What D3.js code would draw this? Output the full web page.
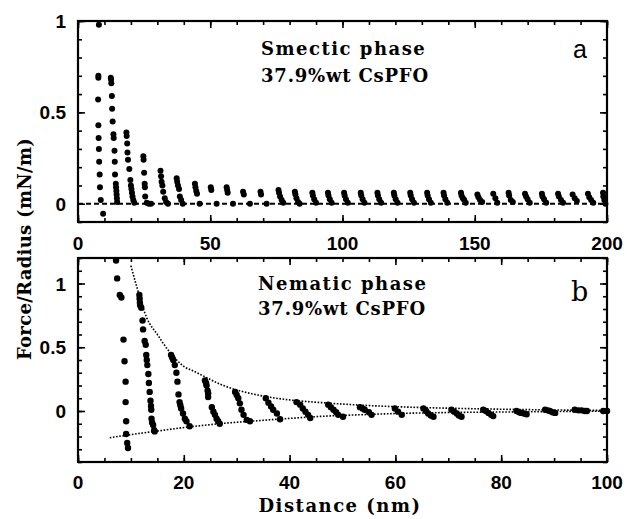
<!DOCTYPE html>
<html>
<head>
<meta charset="utf-8">
<script src="https://cdn.jsdelivr.net/npm/d3@7"></script>
<style>
  body { margin: 0; background: #fff; }
  svg text { fill: #000; }
</style>
</head>
<body>
<svg id="chart" width="627" height="519"></svg>
<script>
(function () {
    'use strict';

    // panel a: smectic phase, force/radius (mN/m) vs distance (nm)
    var smecticPts = [
        [7.9, 0.98], [7.7, 0.70], [7.7, 0.69], [7.6, 0.57], [7.7, 0.43], [7.8, 0.36], [7.9, 0.30], [8.0, 0.23],
        [8.2, 0.16], [8.3, 0.09], [8.6, 0.02], [9.5, -0.055],
        [12.4, 0.69], [12.5, 0.68], [12.6, 0.66], [12.8, 0.59], [12.9, 0.52], [13.1, 0.45], [13.4, 0.38],
        [13.5, 0.36], [13.8, 0.29], [13.9, 0.23], [14.0, 0.16], [14.3, 0.11], [14.4, 0.09], [14.5, 0.07],
        [14.6, 0.05], [14.7, 0.03], [14.8, 0.01],
        [18.3, 0.39], [18.4, 0.37], [18.6, 0.33], [18.7, 0.28], [18.9, 0.24], [19.4, 0.19], [19.8, 0.13],
        [20.0, 0.10], [20.2, 0.08], [20.4, 0.06], [20.6, 0.04], [20.9, 0.02], [21.3, 0.005],
        [24.7, 0.26], [24.8, 0.24], [25.0, 0.17], [25.2, 0.11], [25.3, 0.09], [25.4, 0.04], [26.0, 0.005],
        [26.8, 0.0], [27.6, 0.0],
        [31.2, 0.18], [31.4, 0.15], [31.6, 0.12], [31.9, 0.10], [32.2, 0.065], [32.8, 0.03], [33.3, 0.01], [34.0, 0.0],
        [37.3, 0.14], [37.5, 0.12], [37.8, 0.10], [38.2, 0.08], [38.5, 0.04], [39.0, 0.02], [39.6, 0.0],
        [44.2, 0.11], [44.4, 0.09], [44.7, 0.07], [45.0, 0.055], [46.0, 0.0],
        [50.2, 0.09], [50.4, 0.075], [52.4, 0.0],
        [56.2, 0.09], [56.4, 0.075], [56.6, 0.06], [58.6, 0.0],
        [62.4, 0.065], [62.7, 0.05], [65.0, 0.0],
        [69.0, 0.065], [69.2, 0.05], [71.3, 0.0],
        [75.8, 0.075], [76.0, 0.06], [76.4, 0.04], [77.0, 0.02], [77.6, 0.005],
        [82.0, 0.065], [82.2, 0.05], [82.6, 0.03], [83.2, 0.01], [83.8, 0.0],
        [88.6, 0.06], [88.8, 0.045], [89.3, 0.025], [90.0, 0.005],
        [94.5, 0.06], [94.7, 0.045], [95.2, 0.025], [95.9, 0.005],
        [100.6, 0.06], [100.8, 0.045], [101.3, 0.025], [102.0, 0.005],
        [106.9, 0.06], [107.1, 0.045], [107.6, 0.025], [108.3, 0.005],
        [113.2, 0.06], [113.4, 0.045], [113.9, 0.025], [114.6, 0.005],
        [119.4, 0.06], [119.6, 0.045], [120.1, 0.025], [120.8, 0.005],
        [125.6, 0.06], [125.8, 0.045], [126.3, 0.025], [127.0, 0.005],
        [132.0, 0.06], [132.2, 0.045], [132.7, 0.025], [133.4, 0.005],
        [138.2, 0.06], [138.4, 0.045], [138.9, 0.025], [139.6, 0.005],
        [144.8, 0.06], [145.0, 0.045], [145.5, 0.03], [146.0, 0.02], [146.6, 0.005],
        [151.0, 0.05], [151.4, 0.035], [152.0, 0.02], [152.8, 0.01],
        [157.0, 0.055], [157.8, 0.03], [158.5, 0.005],
        [162.8, 0.06], [163.0, 0.045], [163.6, 0.02], [164.4, 0.01],
        [169.0, 0.055], [169.4, 0.04], [170.0, 0.025], [170.8, 0.005],
        [175.4, 0.055], [175.6, 0.04], [176.2, 0.025], [177.0, 0.005],
        [181.5, 0.055], [181.8, 0.04], [182.6, 0.02], [183.4, 0.005],
        [187.0, 0.05], [187.8, 0.03], [188.6, 0.015],
        [192.8, 0.055], [193.3, 0.035], [194.0, 0.02], [194.8, 0.005],
        [198.5, 0.06], [198.6, 0.04], [199.0, 0.02], [199.4, 0.0]
    ];

    // panel b: nematic phase
    var nematicPts = [
        [7.2, 1.18], [7.4, 1.04], [7.9, 0.91], [8.2, 0.89], [8.6, 0.56], [8.8, 0.39], [9.0, 0.23], [9.0, 0.07],
        [9.1, -0.08], [9.1, -0.18], [9.3, -0.25], [9.45, -0.29],
        [11.6, 0.91], [11.65, 0.88], [11.7, 0.85], [11.75, 0.83], [11.96, 0.81], [12.2, 0.71], [12.3, 0.64],
        [12.6, 0.55], [12.8, 0.52], [12.9, 0.44], [13.0, 0.40], [13.1, 0.36], [13.3, 0.29], [13.4, 0.22],
        [13.55, 0.15], [13.7, 0.08], [13.8, 0.04], [13.85, 0.01], [13.9, -0.06], [14.0, -0.09], [14.2, -0.11],
        [14.4, -0.15], [14.5, -0.16],
        [17.6, 0.44], [17.8, 0.42], [18.0, 0.40], [18.3, 0.36], [18.6, 0.30], [18.8, 0.23], [19.0, 0.13],
        [19.2, 0.07], [19.35, 0.045], [19.5, 0.02], [19.85, -0.02], [20.2, -0.06], [20.5, -0.08], [21.1, -0.12],
        [24.0, 0.24], [24.2, 0.22], [24.3, 0.20], [24.5, 0.16], [24.6, 0.14], [24.6, 0.11], [25.3, 0.03],
        [25.6, -0.005], [25.9, -0.03], [26.2, -0.06], [26.5, -0.08], [26.8, -0.10],
        [29.7, 0.15], [30.0, 0.125], [30.3, 0.10], [30.6, 0.06], [30.9, 0.01], [31.3, -0.03], [31.9, -0.07], [32.5, -0.08],
        [35.5, 0.10], [36.0, 0.065], [36.5, 0.035], [36.9, 0.01], [37.6, -0.02], [38.2, -0.065],
        [41.3, 0.07], [42.0, 0.05], [42.5, 0.02], [43.0, -0.005], [43.5, -0.03], [43.9, -0.055],
        [47.3, 0.05], [47.8, 0.03], [48.3, 0.01], [48.8, -0.01], [49.2, -0.03], [50.1, -0.045],
        [53.3, 0.03], [53.8, 0.02], [54.2, 0.01], [55.0, -0.01], [55.5, -0.03],
        [59.9, 0.02], [60.5, -0.005], [61.2, -0.03],
        [65.3, 0.02], [65.8, 0.0], [66.2, -0.02], [66.7, -0.035], [67.2, -0.045],
        [70.6, 0.01], [71.1, -0.005], [71.6, -0.02], [72.0, -0.035], [72.5, -0.045],
        [76.6, 0.01], [77.1, 0.0], [77.6, -0.015], [78.1, -0.03], [78.5, -0.04],
        [82.9, 0.0], [83.4, -0.01], [83.8, -0.015], [84.3, -0.02], [84.8, -0.025],
        [88.3, 0.01], [88.8, 0.005], [89.2, 0.0], [89.7, -0.01], [90.2, -0.015],
        [93.9, 0.01], [94.6, 0.005], [95.2, 0.005], [95.8, 0.0], [96.2, 0.0],
        [99.3, 0.0], [100.0, 0.0]
    ];

    // dotted envelope curves in panel b
    var upperX = [10, 11, 13, 15, 17, 20, 22, 27.5, 34, 40, 46, 53, 60, 70, 80, 90, 100];
    var upperY = [1.14, 0.99, 0.73, 0.60, 0.48, 0.35, 0.31, 0.20, 0.125, 0.087, 0.066, 0.047, 0.034, 0.022, 0.014, 0.008, 0.004];
    var lowerX = [6, 10, 14.5, 21, 27.5, 34, 40, 46, 53, 60, 70, 80, 90, 100];
    var lowerY = [-0.21, -0.185, -0.16, -0.125, -0.097, -0.076, -0.058, -0.042, -0.03, -0.02, -0.012, -0.008, -0.004, -0.002];

    var xTicksA = [0, 50, 100, 150, 200], yTicksA = [0, 0.5, 1];
    var xTicksB = [0, 20, 40, 60, 80, 100], yTicksB = [0, 0.5, 1];

    var left = 78, right = 607;
    var svg = d3.select('#chart');
    var tickFont = '"Liberation Sans", Arial, sans-serif';
    var textFont = '"DejaVu Serif", serif';

    function drawFrame(g, x, y, xMajor, xMinor, yMajor, yMinor) {
        var x0 = x.range()[0], x1 = x.range()[1], y0 = y.range()[0], y1 = y.range()[1];
        var sides = [
            {axis: d3.axisBottom, scale: x, tr: [0, y0], major: xMajor, minor: xMinor},
            {axis: d3.axisTop, scale: x, tr: [0, y1], major: xMajor, minor: xMinor},
            {axis: d3.axisLeft, scale: y, tr: [x0, 0], major: yMajor, minor: yMinor},
            {axis: d3.axisRight, scale: y, tr: [x1, 0], major: yMajor, minor: yMinor}
        ];
        sides.forEach(function (s) {
            [[s.minor, 4], [s.major, 7]].forEach(function (t) {
                var a = g.append('g')
                    .attr('transform', 'translate(' + s.tr[0] + ',' + s.tr[1] + ')')
                    .call(s.axis(s.scale).tickValues(t[0]).tickSize(-t[1]).tickFormat(''));
                a.select('.domain').remove();
                a.selectAll('line').attr('stroke', '#000').attr('stroke-width', 1.6);
            });
        });
        g.append('rect')
            .attr('x', x0).attr('y', y1)
            .attr('width', x1 - x0).attr('height', y0 - y1)
            .attr('fill', 'none').attr('stroke', '#000').attr('stroke-width', 2.2);
    }

    function tickLabels(g, x, y, xVals, yVals, xBase) {
        g.selectAll('.xl').data(xVals).enter().append('text')
            .attr('x', function (d) { return x(d); })
            .attr('y', xBase)
            .attr('text-anchor', 'middle')
            .style('font', 'bold 19px ' + tickFont)
            .text(function (d) { return d; });
        g.selectAll('.yl').data(yVals).enter().append('text')
            .attr('x', left - 12)
            .attr('y', function (d) { return y(d) + 7; })
            .attr('text-anchor', 'end')
            .style('font', 'bold 19px ' + tickFont)
            .text(function (d) { return d; });
    }

    function label(g, x, y, size, spacing, txt) {
        g.append('text').attr('x', x).attr('y', y)
            .style('font', 'bold ' + size + 'px ' + textFont)
            .style('letter-spacing', spacing + 'px')
            .text(txt);
    }

    // ---- panel a
    var xa = d3.scaleLinear().domain([0, 200]).range([left, right]);
    var ya = d3.scaleLinear().domain([-0.1, 1]).range([222, 21]);
    var ga = svg.append('g');

    ga.append('line')
        .attr('x1', xa(0)).attr('x2', xa(200))
        .attr('y1', ya(0)).attr('y2', ya(0))
        .attr('stroke', '#000').attr('stroke-width', 2)
        .attr('stroke-dasharray', '5,3');

    ga.selectAll('circle').data(smecticPts).enter().append('circle')
        .attr('cx', function (d) { return xa(d[0]); })
        .attr('cy', function (d) { return ya(d[1]); })
        .attr('r', 3)
        .attr('fill', '#000');

    drawFrame(ga, xa, ya, d3.range(0, 201, 50), d3.range(0, 201, 10),
        [0, 0.5, 1], d3.range(-1, 11).map(function (v) { return v / 10; }));
    tickLabels(ga, xa, ya, xTicksA, yTicksA, 250);

    label(ga, 261, 55, 18, 1.5, 'Smectic phase');
    label(ga, 261, 82, 18, 0.8, '37.9%wt CsPFO');
    ga.append('text').attr('x', 573).attr('y', 58)
        .style('font', '25px ' + tickFont).text('a');

    // ---- panel b
    var xb = d3.scaleLinear().domain([0, 100]).range([left, right]);
    var yb = d3.scaleLinear().domain([-0.4, 1.2]).range([462, 258]);
    var gb = svg.append('g');

    var line = d3.line().curve(d3.curveMonotoneX)
        .x(function (d) { return xb(d[0]); })
        .y(function (d) { return yb(d[1]); });

    [[upperX, upperY], [lowerX, lowerY]].forEach(function (c) {
        gb.append('path')
            .attr('d', line(d3.zip(c[0], c[1])))
            .attr('fill', 'none').attr('stroke', '#000')
            .attr('stroke-width', 1.6).attr('stroke-dasharray', '1.6,1.6');
    });

    gb.selectAll('circle').data(nematicPts).enter().append('circle')
        .attr('cx', function (d) { return xb(d[0]); })
        .attr('cy', function (d) { return yb(d[1]); })
        .attr('r', 3.2)
        .attr('fill', '#000');

    drawFrame(gb, xb, yb, d3.range(0, 101, 20), d3.range(0, 101, 5),
        [0, 0.5, 1], d3.range(-4, 13).map(function (v) { return v / 10; }));
    tickLabels(gb, xb, yb, xTicksB, yTicksB, 489);

    label(gb, 258, 290, 18, 1.5, 'Nematic phase');
    label(gb, 258, 315, 18, 0.8, '37.9%wt CsPFO');
    gb.append('text').attr('x', 571).attr('y', 301)
        .style('font', '27px ' + textFont).text('b');

    // axis titles
    svg.append('text')
        .attr('transform', 'translate(31,249) rotate(-90)')
        .attr('text-anchor', 'middle')
        .style('font', 'bold 18px ' + textFont)
        .style('letter-spacing', '0.3px')
        .text('Force/Radius (mN/m)');
    svg.append('text')
        .attr('x', 340).attr('y', 512)
        .attr('text-anchor', 'middle')
        .style('font', 'bold 18px ' + textFont)
        .style('letter-spacing', '1.5px')
        .text('Distance (nm)');
}());
</script>
</body>
</html>
